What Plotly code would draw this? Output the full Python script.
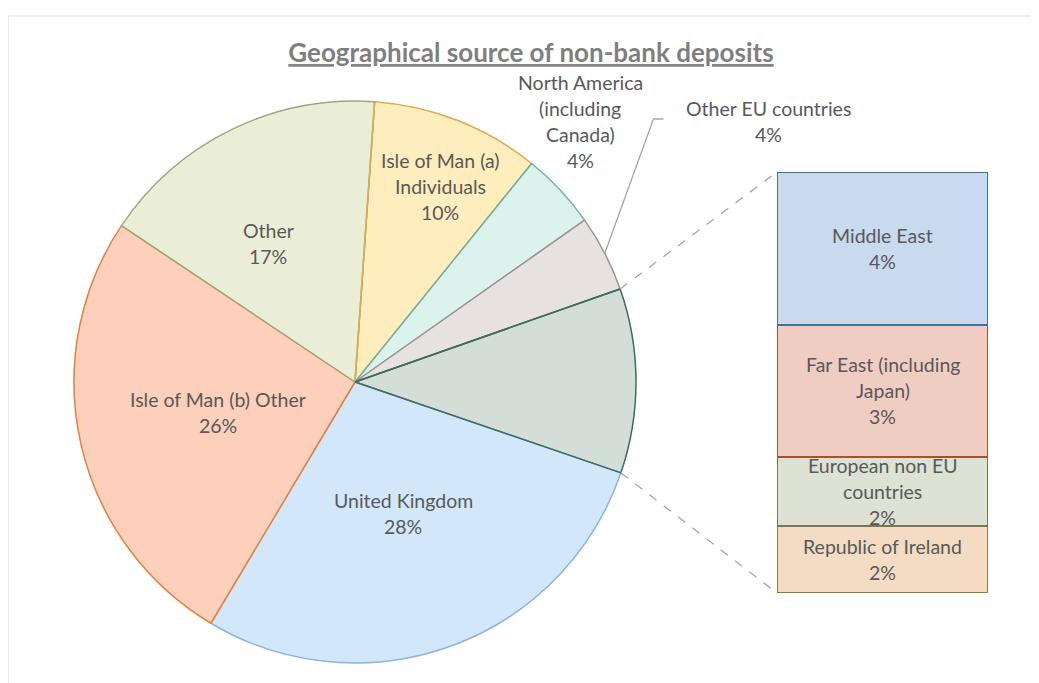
import math
import plotly.graph_objects as go

# page places the figure 8px in from the top-left (body margin)
OFF = 8
W, H = 1031, 675

# ---------------- data ----------------
pie_categories = ["Isle of Man (a) Individuals", "North America (including Canada)",
                  "Other EU countries", "United Kingdom", "Isle of Man (b) Other", "Other"]
pie_values = [9.7, 4.4, 4.4, 28.3, 25.8, 16.7]

bar_categories = ["Middle East", "Far East (including Japan)",
                  "European non EU countries", "Republic of Ireland"]
bar_values = [3.85, 3.32, 1.74, 1.69]

title_text = "Geographical source of non-bank deposits"

# ---------------- layout / style constants ----------------
FONT = "Lato"
TXT = "#595959"
PITCH = 26          # label line pitch (px)
LBL_SIZE = 19.5

PIE_CX, PIE_CY, PIE_R = 355, 382, 281
START_DEG = 4       # first slice starts 4 degrees clockwise from 12 o'clock
GROUP_INDEX = 3     # where the split-out slice sits in the pie

BAR_X0, BAR_X1, BAR_Y0, BAR_Y1 = 777, 988, 172, 593

pie_label_lines = {
    "Isle of Man (a) Individuals": ["Isle of Man (a)", "Individuals"],
    "North America (including Canada)": ["North America", "(including", "Canada)"],
    "Other EU countries": ["Other EU countries"],
    "United Kingdom": ["United Kingdom"],
    "Isle of Man (b) Other": ["Isle of Man (b) Other"],
    "Other": ["Other"],
}
# label placement: (radius fraction, angle offset in degrees)
pie_label_place = {
    "Isle of Man (a) Individuals": (0.76, 2),
    "North America (including Canada)": (1.225, -6),
    "Other EU countries": (1.74, -5),
    "United Kingdom": (0.50, 0),
    "Isle of Man (b) Other": (0.50, 0),
    "Other": (0.58, -6),
}
bar_label_lines = {
    "Middle East": ["Middle East"],
    "Far East (including Japan)": ["Far East (including", "Japan)"],
    "European non EU countries": ["European non EU", "countries"],
    "Republic of Ireland": ["Republic of Ireland"],
}

pie_fill = ["#FEEDBD", "#DCF2EC", "#E7E2E1", "#D4DED9", "#D3E7FB", "#FCD0BA", "#EBEED7"]
pie_line = ["#D6AE50", "#72ADA4", "#9C9494", "#3F6B5F", "#8EB4D6", "#E1803F", "#9DA67C"]
bar_fill = ["#C9D9EE", "#F0CDC3", "#DDE2D4", "#F3DCC3"]
bar_line = ["#41719C", "#A5522B", "#6F7A52", "#9C7A27"]

# ---------------- derived values ----------------
group_value = sum(bar_values)
all_cats = pie_categories[:GROUP_INDEX] + ["Other regions"] + pie_categories[GROUP_INDEX:]
all_vals = pie_values[:GROUP_INDEX] + [group_value] + pie_values[GROUP_INDEX:]
total = sum(all_vals)


def pct(v):
    return f"{round(v / total * 100):d}%"


def px_to_paper(x, y):
    return (x - OFF) / W, 1 - (y - OFF) / H


def polar(angle_deg, rfrac):
    a = math.radians(angle_deg)
    return PIE_CX + PIE_R * rfrac * math.sin(a), PIE_CY - PIE_R * rfrac * math.cos(a)


angles = []
cum = START_DEG
for v in all_vals:
    a0 = cum
    cum += 360 * v / total
    angles.append((a0, cum))

fig = go.Figure()

dx0, dy1 = px_to_paper(PIE_CX - PIE_R, PIE_CY - PIE_R)
dx1, dy0 = px_to_paper(PIE_CX + PIE_R, PIE_CY + PIE_R)
fig.add_trace(go.Pie(
    labels=all_cats, values=all_vals, sort=False, direction="clockwise",
    rotation=START_DEG, textinfo="none", hoverinfo="label+percent",
    marker=dict(colors=pie_fill, line=dict(color=pie_line, width=1.5)),
    domain=dict(x=[dx0, dx1], y=[dy0, dy1]), showlegend=False,
))

for cat, val, fc, lc in reversed(list(zip(bar_categories, bar_values, bar_fill, bar_line))):
    fig.add_trace(go.Bar(
        x=[0], y=[val], width=[1], name=cat, marker=dict(color=fc, line=dict(color=lc, width=2)),
        showlegend=False, hoverinfo="name+y",
    ))

bx0, by1 = px_to_paper(BAR_X0, BAR_Y0)
bx1, by0 = px_to_paper(BAR_X1, BAR_Y1)
fig.update_layout(
    barmode="stack",
    xaxis=dict(domain=[bx0, bx1], range=[-0.5, 0.5], visible=False, fixedrange=True),
    yaxis=dict(domain=[by0, by1], range=[0, group_value], visible=False, fixedrange=True),
)

annotations = []
shapes = []

# re-stroke slice edges whose outline colour shows on top in the reference
for ang, col in ((angles[0][0], pie_line[0]),
                 (angles[GROUP_INDEX][0], pie_line[GROUP_INDEX]),
                 (angles[GROUP_INDEX][1], pie_line[GROUP_INDEX])):
    p0 = px_to_paper(PIE_CX, PIE_CY)
    p1 = px_to_paper(*polar(ang, 1.0))
    shapes.append(dict(type="line", xref="paper", yref="paper", x0=p0[0], y0=p0[1], x1=p1[0], y1=p1[1],
                       line=dict(color=col, width=1.5)))

for i, cat in enumerate(all_cats):
    if cat not in pie_label_lines:
        continue
    a0, a1 = angles[i]
    rf, off = pie_label_place[cat]
    lx, ly = polar((a0 + a1) / 2 + off, rf)
    lines = pie_label_lines[cat] + [pct(all_vals[i])]
    n = len(lines)
    for k, line in enumerate(lines):
        x, y = px_to_paper(lx, ly + (k - (n - 1) / 2) * PITCH)
        annotations.append(dict(x=x, y=y, xref="paper", yref="paper", text=line, showarrow=False,
                                xanchor="center", yanchor="middle",
                                font=dict(family=FONT, size=LBL_SIZE, color=TXT)))
    if cat == "Other EU countries":
        sx, sy = polar((a0 + a1) / 2, 1.0)
        ex, ey = lx - 105, ly - 2
        elx = ex - 10
        p = [px_to_paper(sx, sy), px_to_paper(elx, ey), px_to_paper(ex, ey)]
        shapes.append(dict(type="path", xref="paper", yref="paper",
                           path=f"M {p[0][0]} {p[0][1]} L {p[1][0]} {p[1][1]} L {p[2][0]} {p[2][1]}",
                           line=dict(color="#A6A6A6", width=1.3)))

base = 0
seg_mid = {}
for cat, val in reversed(list(zip(bar_categories, bar_values))):
    seg_mid[cat] = base + val / 2
    base += val
for cat, val in zip(bar_categories, bar_values):
    lines = bar_label_lines[cat] + [pct(val)]
    n = len(lines)
    for k, line in enumerate(lines):
        annotations.append(dict(x=0, y=seg_mid[cat], xref="x", yref="y", text=line, showarrow=False,
                                xanchor="center", yanchor="middle",
                                yshift=-(k - (n - 1) / 2) * PITCH,
                                font=dict(family=FONT, size=LBL_SIZE, color=TXT)))

g0, g1 = angles[GROUP_INDEX]
for ang, (cx, cy) in ((g0, (BAR_X0, BAR_Y0)), (g1, (BAR_X0, BAR_Y1))):
    sx, sy = polar(ang, 1.0)
    p0 = px_to_paper(sx, sy)
    p1 = px_to_paper(cx, cy)
    shapes.append(dict(type="line", xref="paper", yref="paper", x0=p0[0], y0=p0[1], x1=p1[0], y1=p1[1],
                       line=dict(color="#A6A6A6", width=1.3, dash="dash")))

# chart border
b0 = px_to_paper(8, 16)
b1 = px_to_paper(1060, 700)
shapes.append(dict(type="rect", xref="paper", yref="paper", x0=b0[0], y0=b1[1], x1=b1[0], y1=b0[1],
                   line=dict(color="#D9D9D9", width=1.2), layer="below"))

tx, ty = px_to_paper(531, 53)
fig.update_layout(
    width=W, height=H, margin=dict(l=0, r=0, t=0, b=0),
    paper_bgcolor="white", plot_bgcolor="rgba(0,0,0,0)",
    title=dict(text=f"<b><u>{title_text}</u></b>", x=tx, y=ty, xanchor="center", yanchor="middle",
               font=dict(family=FONT, size=26, color="#7F7F7F")),
    annotations=annotations, shapes=shapes,
)

fig.write_html("out.html")
